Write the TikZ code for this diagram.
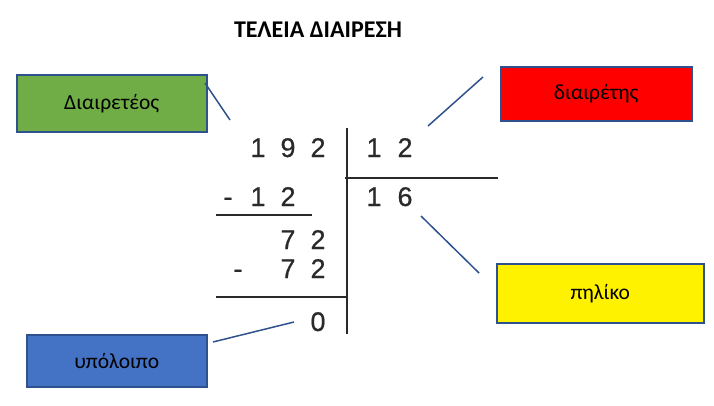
\documentclass[tikz,border=0pt]{standalone}
\usepackage{fontspec}
\setmainfont{Carlito}
\newfontfamily\digitfont[FakeBold=0.6]{Liberation Sans}
\definecolor{edgeblue}{HTML}{2F528F}
\definecolor{gfill}{HTML}{70AD47}
\definecolor{bfill}{HTML}{4472C4}
\definecolor{digitgrey}{HTML}{2A2A2A}
\tikzset{
  lbox/.style={draw=edgeblue, line width=1.5pt, font=\fontsize{21.5}{24}\selectfont, anchor=north west, inner sep=0pt},
  dig/.style={font=\digitfont\fontsize{27}{30}\selectfont, text=digitgrey, inner sep=0pt, anchor=base},
  rule/.style={draw=digitgrey, line width=2pt},
  conn/.style={draw=edgeblue, line width=1.5pt},
}
\begin{document}
\begin{tikzpicture}[x=1pt,y=-1pt]
\useasboundingbox (0,0) rectangle (714,405);
\node[font=\bfseries\fontsize{24}{28}\selectfont] (title) at (318,30) {ΤΕΛΕΙΑ ΔΙΑΙΡΕΣΗ};
% boxes
\node[lbox, fill=gfill, minimum width=190pt, minimum height=57pt] (dividend) at (16,74) {Διαιρετέος};
\node[lbox, fill=red, minimum width=191pt, minimum height=54pt] (divisor) at (500,66) {διαιρέτης};
\node[lbox, fill=yellow, minimum width=207pt, minimum height=59pt] (quot) at (496,263) {πηλίκο};
\node[lbox, fill=bfill, minimum width=180pt, minimum height=52pt] (rem) at (26,334) {υπόλοιπο};
% digits (baseline positions)
\node[dig] (a1) at (258,157) {1};
\node[dig] (a2) at (288,157) {9};
\node[dig] (a3) at (318,157) {2};
\node[dig] (b1) at (374,157) {1};
\node[dig] (b2) at (405,157) {2};
\node[dig] (c0) at (228,206) {-};
\node[dig] (c1) at (258,206) {1};
\node[dig] (c2) at (288,206) {2};
\node[dig] (q1) at (374,206) {1};
\node[dig] (q2) at (405,206) {6};
\node[dig] (d1) at (288,249) {7};
\node[dig] (d2) at (318,249) {2};
\node[dig] (e0) at (238,278) {-};
\node[dig] (e1) at (288,278) {7};
\node[dig] (e2) at (318,278) {2};
\node[dig] (r0) at (318,331) {0};
% rules
\coordinate (vtop) at (347,128);
\coordinate (vbot) at (347,334);
\coordinate (hr1) at (345,178);
\coordinate (hr2) at (498,178);
\coordinate (hl1) at (216,215);
\coordinate (hl2) at (312,215);
\coordinate (hm1) at (216,297);
\coordinate (hm2) at (347,297);
\draw[rule] (vtop) -- (vbot);
\draw[rule] (hr1) -- (hr2);
\draw[rule] (hl1) -- (hl2);
\draw[rule] (hm1) -- (hm2);
% connectors
\coordinate (gs) at (205,83);
\coordinate (ge) at (230,120);
\coordinate (rs) at (483,77);
\coordinate (re) at (428,126);
\coordinate (ys) at (479,273);
\coordinate (ye) at (421,216);
\coordinate (bs) at (213,342);
\coordinate (be) at (294,322);
\draw[conn] (gs) -- (ge);
\draw[conn] (rs) -- (re);
\draw[conn] (ys) -- (ye);
\draw[conn] (bs) -- (be);
\end{tikzpicture}
\end{document}
